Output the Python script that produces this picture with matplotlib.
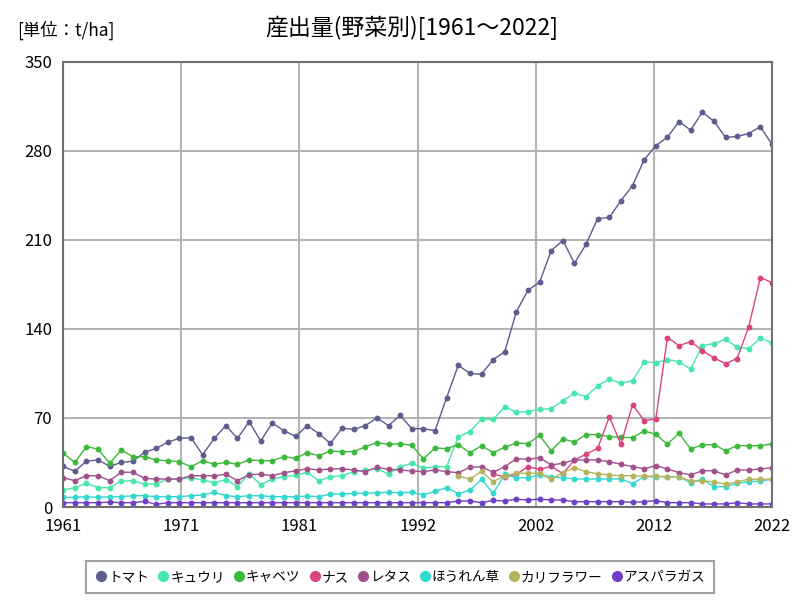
import numpy as np
from matplotlib import pyplot as plt
from matplotlib.lines import Line2D

plt.rcParams['font.family'] = ['Noto Sans CJK JP', 'DejaVu Sans']

years = list(range(1961, 2023))

tomato = [32, 28, 36, 37, 32, 35, 36, 43, 46, 51, 54, 54.5, 41, 54, 64, 54, 67, 52, 66, 60,
          55.5, 64, 57.7, 50, 62, 61, 64, 70, 64, 72, 61.6, 61.6, 60, 86, 111.4, 105, 104.4,
          115.9, 122, 153.6, 170.4, 176.7, 201.6, 209.5, 191.6, 206.6, 226.8, 227.6, 240.9,
          252.7, 273, 284, 290.8, 303, 296.3, 310.4, 303.4, 290.5, 291.3, 293.6, 299, 285]
cucumber = [13.4, 15.2, 18.6, 15.2, 15.2, 20.4, 20.7, 18, 18, 22, 22, 23, 21.2, 19, 21.5, 16,
            26.2, 17.5, 22, 23.8, 25, 27.3, 20.7, 23.8, 24.6, 27.8, 29.1, 29.9, 26, 31.7, 34.4,
            30.4, 31.7, 31.7, 55.3, 59.2, 69.2, 68.8, 78.9, 74.5, 75, 76.8, 77.3, 83.6, 89.4,
            86.8, 95.4, 100.4, 97.3, 99.3, 114, 113.5, 115.9, 114.3, 108.3, 126.9, 128.5, 131.9,
            125.6, 124.5, 132.7, 129.2]
cabbage = [42.2, 35.1, 47.4, 45.6, 34.4, 44.8, 39.6, 39.6, 37, 36.4, 35.6, 31.7, 36.4, 33.6,
           35.1, 33.6, 37, 36.4, 36.4, 39.6, 38.2, 42.7, 40.4, 44, 43.5, 43.5, 47.4, 50.6, 49.3,
           49.8, 48.5, 37.8, 46.4, 45.9, 49, 42.7, 48.2, 42.7, 47, 50.3, 49.8, 56.3, 44.3, 53.5,
           51.1, 56.9, 56.9, 55.3, 54.8, 54.5, 59.8, 57.2, 49.3, 58, 45.6, 49, 49, 44.3, 48.2,
           48.2, 48.2, 49.6]
# ナス: 1998年から
eggplant_years = list(range(1998, 2023))
eggplant = [25.7, 23.8, 25.7, 31.7, 29.6, 32, 26.2, 37, 41.5, 46.1, 71, 49.3, 80.5, 67.9, 69.2,
            133.2, 126.9, 130, 123, 117.2, 112.7, 116.7, 141.8, 180.4, 176.4]
lettuce = [23, 20.7, 24.6, 24.6, 20.7, 27.3, 27.3, 22.5, 22, 22, 22, 24.6, 24.6, 24.6, 25.7,
           20.7, 25.5, 25.7, 24.6, 27, 28.4, 30.1, 29.1, 29.9, 30.1, 29.1, 27.8, 31.2, 29.6,
           29.1, 28.3, 27.8, 29.1, 27.8, 27, 31.2, 31.7, 27.2, 31.7, 38, 37.5, 38.8, 33, 34.4,
           37, 37, 37, 35.6, 33.6, 31.7, 30.1, 32.5, 29.9, 27, 25.2, 28.5, 28.5, 25.2, 29.1,
           29.1, 29.9, 30.9]
spinach = [7.6, 7.6, 8.1, 7.6, 8.1, 8.1, 8.9, 8.9, 8.1, 8.1, 8.1, 8.9, 9.4, 11.5, 8.9, 8.1,
           8.9, 8.9, 8.1, 8.1, 8.1, 8.6, 8.1, 10.2, 10.2, 10.7, 10.7, 11.3, 11.5, 11.3, 11.5,
           9.7, 12.3, 15.2, 10.4, 13.2, 21.8, 10.7, 25.7, 23, 23, 25.5, 23.8, 23, 22, 22, 22,
           22, 22, 18.4, 23.8, 23.8, 23.8, 23.8, 19.1, 21.8, 16, 16, 18.6, 19.9, 20.4, 21.8]
# カリフラワー: 1995年から
cauli_years = list(range(1995, 2023))
cauliflower = [24.6, 21.8, 28, 19.9, 24.6, 26.5, 26.5, 26.5, 21.8, 27, 30.9, 27.8, 26, 25.2,
               24.6, 24.6, 24.3, 24.3, 23.8, 23.8, 20.4, 20.4, 19.9, 17.8, 19.9, 21.8, 21.8, 21.8]
asparagus = [3.4, 3.4, 3.4, 3.4, 3.8, 3.4, 3.4, 4.4, 2.1, 3.4, 3.4, 3.4, 3.4, 3.4, 3.4, 3.4,
             3.4, 3.4, 3.4, 3.4, 3.4, 3.4, 3.4, 3.4, 3.4, 3.4, 3.4, 3.4, 3.4, 3.4, 3.4, 3.4,
             3.4, 3.4, 4.7, 4.7, 3.4, 5.2, 4.8, 6.1, 5.5, 6.2, 5.5, 5.5, 4.2, 4.2, 4.2, 4.2,
             4.2, 3.6, 4.2, 5, 3.4, 3.4, 3.4, 2.4, 2.4, 2.4, 3.4, 2.4, 2.4, 2.4]

labels = ['トマト', 'キュウリ', 'キャベツ', 'ナス', 'レタス', 'ほうれん草', 'カリフラワー', 'アスパラガス']
colors = ['#5c5c8e', '#45e8aa', '#3cb83c', '#d94480', '#a0508c', '#33d8d0', '#b4b45e', '#7040c4']

series = [(years, tomato), (years, cucumber), (years, cabbage), (eggplant_years, eggplant),
          (years, lettuce), (years, spinach), (cauli_years, cauliflower), (years, asparagus)]

fig = plt.figure(figsize=(8, 6), dpi=100)
ax = fig.add_axes([0.079, 0.155, 0.886, 0.742])

for (x, y), c in zip(series, colors):
    ax.plot(x, y, color=c, linewidth=1, marker='o', markersize=3.2)

ax.set_xlim(1961, 2022)
ax.set_ylim(0, 350)
ax.set_yticks([0, 70, 140, 210, 280, 350])
xt = [1961 + k * 61 / 6 for k in range(7)]
ax.set_xticks(xt)
ax.set_xticklabels([str(int(round(v))) for v in xt])
ax.grid(True, color='#b4b4b4', linewidth=1.5)
ax.set_axisbelow(True)
ax.tick_params(length=0, labelsize=12, pad=8)
for s in ax.spines.values():
    s.set_color('#707070')
    s.set_linewidth(1.5)

fig.text(0.515, 0.953, '産出量(野菜別)[1961～2022]', ha='center', va='center', fontsize=16.5)
fig.text(0.022, 0.95, '[単位：t/ha]', ha='left', va='center', fontsize=12.5)

handles = [Line2D([], [], linestyle='none', marker='o', markersize=7, color=c) for c in colors]
leg = fig.legend(handles, labels, loc='center', bbox_to_anchor=(0.5, 0.038), ncol=8,
                 fontsize=9.8, frameon=True, fancybox=False, handletextpad=0.0,
                 columnspacing=0.55, borderpad=0.65, handlelength=1)
leg.get_frame().set_edgecolor('#888888')
leg.get_frame().set_linewidth(1.5)

plt.savefig('out.png')
